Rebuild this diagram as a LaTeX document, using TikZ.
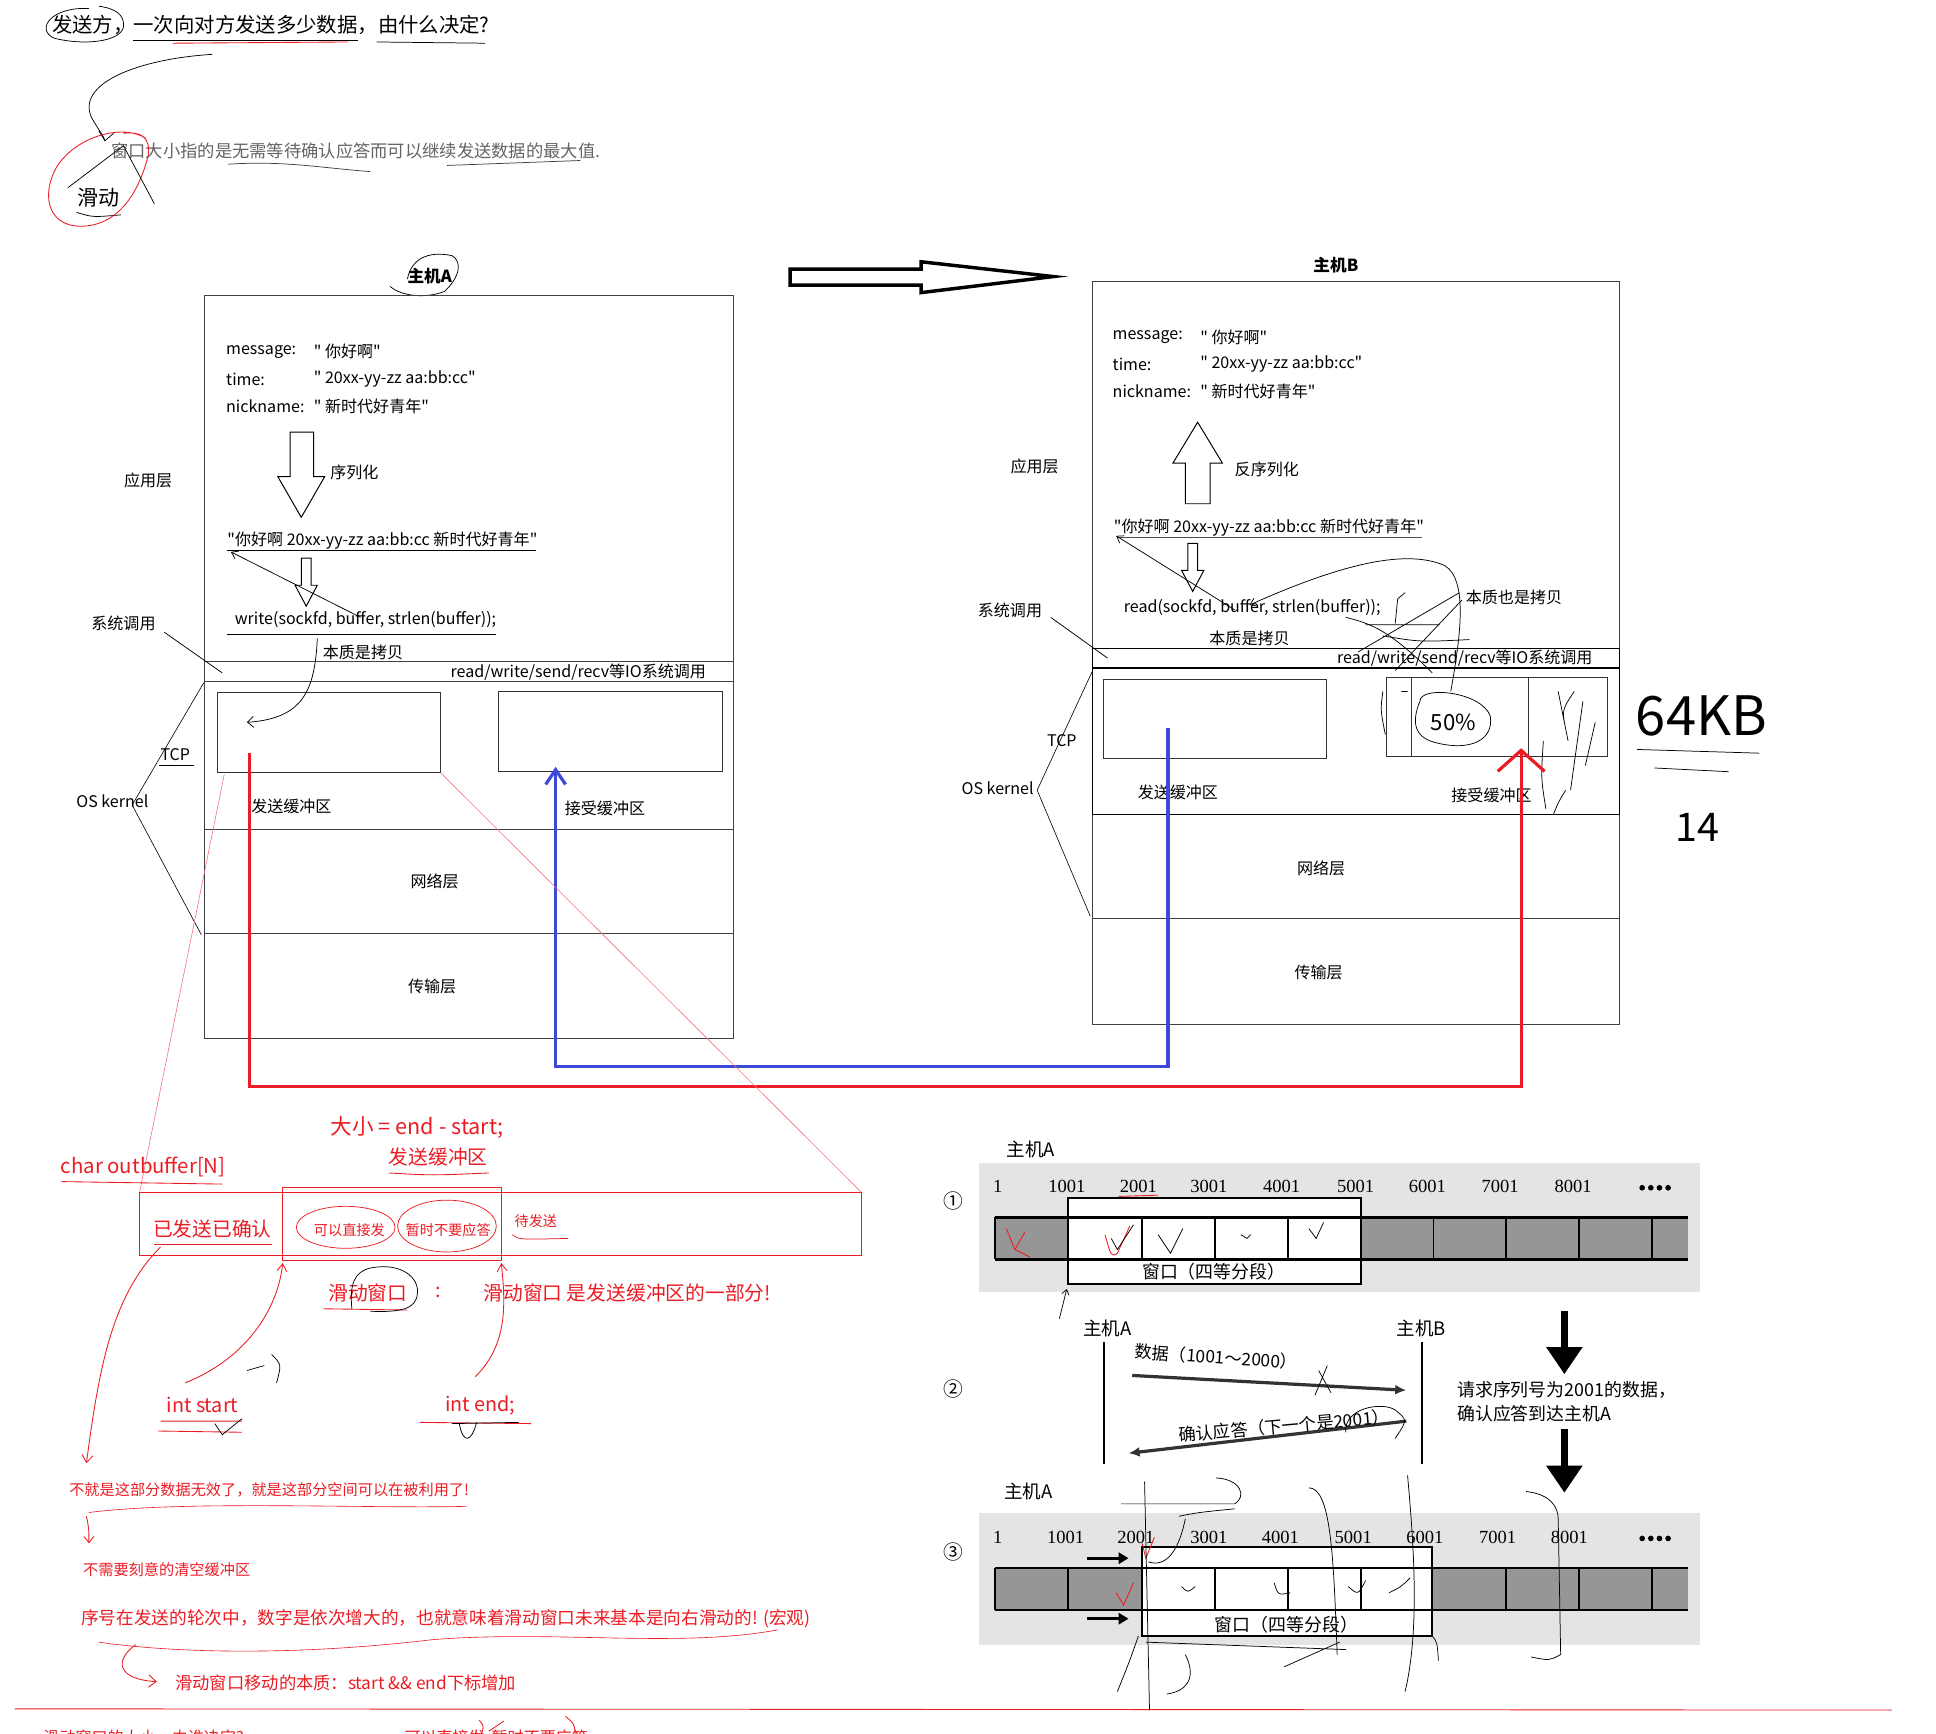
\documentclass[tikz,border=0pt]{standalone}
\usepackage{fontspec}
\setmainfont{Noto Sans CJK SC}[Ligatures=TeXOff]
\newfontfamily\numfont{Liberation Serif}
\usetikzlibrary{arrows.meta}
\definecolor{rd}{RGB}{236,28,36}
\definecolor{bl}{RGB}{62,72,214}
\definecolor{gtxt}{RGB}{100,100,100}
\definecolor{panel}{RGB}{228,228,228}
\definecolor{cell}{RGB}{150,150,150}
\newcommand{\myfs}[1]{\fontsize{#1}{#1}\selectfont}
\begin{document}
\begin{tikzpicture}[x=1pt,y=-1pt,
  lbl/.style={inner sep=0pt,font=\myfs{#1}},lbl/.default=13,
  rlbl/.style={inner sep=0pt,font=\myfs{#1},text=rd},rlbl/.default=16,
  nlbl/.style={inner sep=0pt,font=\numfont\myfs{15}},
  hostline/.style={draw=black!75,line width=0.8pt},
  hand/.style={draw=black,line width=0.6pt},
  redhand/.style={draw=rd,line width=0.7pt},
  redthin/.style={draw=rd!60,line width=0.5pt},
  hollow/.style={draw=black,line width=0.8pt,fill=white},
  bufbox/.style={draw=black!80,line width=0.8pt,inner sep=0pt},
  loopred/.style={draw=rd,line width=2.6pt},
  loopblue/.style={draw=bl,line width=2.6pt},
  barline/.style={draw=black,line width=1.8pt},
  winbox/.style={draw=black,line width=1.6pt,fill=white}
]
\useasboundingbox (0,0) rectangle (1568,1404);
\fill[white] (0,0) rectangle (1568,1404);

%% ---------------- top question ----------------
\node[lbl=16.5,anchor=west] (q) at (42,20) {发送方，一次向对方发送多少数据，由什么决定?};
\draw[hand] (72,7) .. controls (42,5) and (28,24) .. (44,31) .. controls (68,37) and (97,34) .. (100,22) .. controls (101,12) and (94,7) .. (80,5);
\draw[hand] (108,33) -- (290,33);
\draw[redhand] (140,35) -- (282,34);
\draw[hand] (305,34) -- (393,35);
\draw[hand] (172,44) .. controls (110,48) and (62,68) .. (74,95) .. controls (79,104) and (84,110) .. (85,114);
\draw[hand] (80,106) -- (85,114) -- (92,108);

\node[lbl=14,anchor=west,text=gtxt] (win) at (90,122) {窗口大小指的是无需等待确认应答而可以继续发送数据的最大值.};
\draw[hand,draw=black!75] (185,133) .. controls (230,130) and (260,136) .. (300,139);
\draw[hand,draw=black!75] (362,134) -- (470,130);
\node[lbl=17] (hd) at (80,160) {滑动};
\draw[hand] (62,172) .. controls (75,176) .. (98,174);
\draw[redhand] (118,112) .. controls (100,100) and (62,110) .. (46,135) .. controls (32,160) and (40,186) .. (70,183) .. controls (100,180) and (114,150) .. (120,126) .. controls (122,112) and (115,106) .. (100,108);
\draw[hand] (55,152) -- (100,118) -- (125,165);

%% ---------------- host A ----------------
\node[inner sep=0pt,font=\bfseries\myfs{13.5}] (hostA) at (348,224) {主机A};
\draw[hand] (316,232) .. controls (325,240) and (345,242) .. (360,236) .. controls (372,225) and (375,212) .. (366,207) .. controls (346,203) and (333,210) .. (330,226);
\draw[hostline] (166,239) rectangle (594,841);
\draw[hostline] (166,536) -- (594,536) (166,552) -- (594,552) (166,672) -- (594,672) (166,756) -- (594,756);

\node[lbl,anchor=west] (mA1) at (183,285) {message:};
\node[lbl,anchor=west] (vA1) at (254,285) {" 你好啊"};
\node[lbl,anchor=west] (mA2) at (183,307) {time:};
\node[lbl,anchor=west] (vA2) at (254,307) {" 20xx-yy-zz aa:bb:cc"};
\node[lbl,anchor=west] (mA3) at (183,329) {nickname:};
\node[lbl,anchor=west] (vA3) at (254,329) {" 新时代好青年"};
\draw[hollow] (235,350) -- (254,350) -- (254,386) -- (263,386) -- (244,419) -- (225,386) -- (235,386) -- cycle;
\node[lbl] (serLbl) at (287,383) {序列化};
\node[lbl] (appA) at (120,389) {应用层};
\node[lbl,anchor=west] (serA) at (184,438) {"你好啊 20xx-yy-zz aa:bb:cc 新时代好青年"};
\draw[hand] (184,446) -- (434,446);
\draw[hollow] (244,452) -- (252,452) -- (252,474) -- (257,474) -- (248,491) -- (239,474) -- (244,474) -- cycle;
\node[lbl,anchor=west] (wr) at (190,502) {write(sockfd, buffer, strlen(buffer));};
\draw[hand] (184,514) -- (402,514);
\draw[hand,-{Straight Barb[length=5pt,width=7pt]}] (292,500) -- (187,447);
\node[lbl] (scA) at (100,505) {系统调用};
\draw[hand] (133,512) -- (180,545);
\node[lbl] (copyA) at (294,528) {本质是拷贝};
\node[lbl,anchor=east] (ioA) at (572,544) {read/write/send/recv等IO系统调用};

\node[bufbox,minimum width=181pt,minimum height=65pt] (sendA) at (266.5,593.5) {};
\node[bufbox,minimum width=181pt,minimum height=65pt] (recvA) at (494.5,592.5) {};
\draw[hand,-{Straight Barb[length=5pt,width=9pt]}] (257,517) .. controls (255,560) and (245,582) .. (200,585);
\node[lbl] (sbA) at (236,653) {发送缓冲区};
\node[lbl] (rbA) at (490,655) {接受缓冲区};
\node[lbl] (tcpA) at (142,611) {TCP};
\draw[hand] (129,620) -- (157,620);
\node[lbl] (osA) at (91,649) {OS kernel};
\draw[hand,line width=0.5pt] (165,553) -- (107,652) -- (163,757);
\node[lbl] (netA) at (352,714) {网络层};
\node[lbl] (traA) at (350,799) {传输层};

%% ---------------- big arrow ----------------
\draw[line width=2.8pt,line join=miter] (640,218) -- (746,218) -- (746,212) -- (853,224) -- (746,237) -- (746,231) -- (640,231) -- cycle;

%% ---------------- host B ----------------
\node[inner sep=0pt,font=\bfseries\myfs{13.5}] (hostB) at (1082,215) {主机B};
\draw[hostline] (885,228) rectangle (1312,830);
\draw[hostline] (885,660) -- (1312,660) (885,744) -- (1312,744);
\draw[draw=black,line width=0.9pt] (885,525) rectangle (1312,541) (885,541) rectangle (1312,660);
\node[lbl,anchor=west] (mB1) at (901,273) {message:};
\node[lbl,anchor=west] (vB1) at (972,273) {" 你好啊"};
\node[lbl,anchor=west] (mB2) at (901,295) {time:};
\node[lbl,anchor=west] (vB2) at (972,295) {" 20xx-yy-zz aa:bb:cc"};
\node[lbl,anchor=west] (mB3) at (901,317) {nickname:};
\node[lbl,anchor=west] (vB3) at (972,317) {" 新时代好青年"};
\draw[hollow] (960,408) -- (980,408) -- (980,375) -- (990,375) -- (970,342) -- (950,375) -- (960,375) -- cycle;
\node[lbl] (deser) at (1026,380) {反序列化};
\node[lbl] (appB) at (838,378) {应用层};
\node[lbl,anchor=west] (serB) at (902,427) {"你好啊 20xx-yy-zz aa:bb:cc 新时代好青年"};
\draw[hand,draw=black!70] (905,435) -- (1152,435);
\draw[hollow] (962,440) -- (970,440) -- (970,462) -- (975,462) -- (966,479) -- (957,462) -- (962,462) -- cycle;
\node[lbl,anchor=west] (rdB) at (910,492) {read(sockfd, buffer, strlen(buffer));};
\draw[hand,-{Straight Barb[length=5pt,width=7pt]}] (1000,494) -- (904,434);
\node[lbl] (scB) at (818,494) {系统调用};
\draw[hand] (851,500) -- (897,533);
\node[lbl] (copyB) at (1012,517) {本质是拷贝};
\node[lbl,anchor=west] (copyB2) at (1187,484) {本质也是拷贝};
\node[lbl,anchor=east] (ioB) at (1290,533) {read/write/send/recv等IO系统调用};
\node[bufbox,minimum width=180pt,minimum height=64pt] (sendB) at (984,582) {};
\node[bufbox,minimum width=179pt,minimum height=64pt] (recvB) at (1212.5,581) {};
\draw[hand,draw=black!80] (1143,549) -- (1143,613) (1238,549) -- (1238,613);
\node[lbl] (sbB) at (954,642) {发送缓冲区};
\node[lbl] (rbB) at (1208,644) {接受缓冲区};
\node[lbl] (tcpB) at (860,600) {TCP};
\node[lbl] (osB) at (808,638) {OS kernel};
\draw[hand,line width=0.5pt] (885,543) -- (840,640) -- (883,742);
\node[lbl] (netB) at (1070,703) {网络层};
\node[lbl] (traB) at (1068,788) {传输层};

% hand scribbles host B
\draw[hand,-{Straight Barb[length=5pt,width=7pt]}] (1175,560) .. controls (1182,520) and (1190,470) .. (1170,458) .. controls (1140,445) and (1090,455) .. (1012,490);
\draw[hand] (1182,480) -- (1100,528) (1184,486) -- (1130,543) (1106,506) -- (1166,506) (1120,515) .. controls (1150,520) .. (1190,518);
\draw[hand] (1090,500) .. controls (1110,505) and (1125,510) .. (1160,545);
\draw[hand] (1130,505) -- (1132,485) -- (1138,480) (1120,560) .. controls (1118,575) .. (1122,595) (1135,560) -- (1140,560);
\draw[hand] (1262,560) -- (1270,600) (1250,600) .. controls (1248,630) .. (1252,655) (1282,568) -- (1272,640) (1292,585) -- (1284,620) (1268,640) .. controls (1262,650) .. (1258,660) (1275,560) .. controls (1265,575) .. (1268,590);
\draw[hand] (1150,568) .. controls (1150,555) and (1200,560) .. (1207,580) .. controls (1210,600) and (1190,608) .. (1165,602) .. controls (1145,598) and (1143,585) .. (1150,568);
\node[inner sep=0pt,font=\itshape\myfs{18}] (pct) at (1177,585) {50\%};

\node[inner sep=0pt,font=\itshape\myfs{44}] (kb) at (1378,580) {64KB};
\draw[hand] (1326,607) -- (1425,610) (1340,622) -- (1400,625);
\node[inner sep=0pt,font=\itshape\myfs{32}] (frac) at (1375,670) {14};

%% ---------------- red / blue loops ----------------
\coordinate (redS) at (202,610);
\coordinate (redE) at (1232,606);
\coordinate (blueS) at (946,590);
\coordinate (blueE) at (450,621);
\draw[loopred,-{Straight Barb[length=17pt,width=38pt]}] (redS) |- (1232,880) -- (redE);
\draw[loopblue,-{Straight Barb[length=12pt,width=16pt]}] (blueS) |- (450,864) -- (blueE);

%% ---------------- bottom-left notes ----------------
\draw[redthin] (sendA.south west) ++(6,1) -- (113,966);
\draw[redthin] (sendA.south east) -- (698,966);
\node[rlbl=17.5] (size) at (338,913) {大小 = end - start;};
\node[rlbl=16] (sbuf) at (355,937) {发送缓冲区};
\draw[redhand] (315,950) .. controls (350,952) .. (396,950);
\node[rlbl=16.5] (outb) at (116,945) {char outbuffer[N]};
\draw[redhand] (50,957) -- (180,959);
\draw[redhand,line width=0.6pt] (113,966) rectangle (698,1017);
\draw[redhand,line width=0.6pt] (229,962) rectangle (406,1021);
\node[rlbl=16] (acked) at (172,995) {已发送已确认};
\draw[redhand] (125,1008) -- (220,1008);
\node[rlbl=11.5] (cansend) at (283,996) {可以直接发};
\node[rlbl=11.5] (noack) at (363,996) {暂时不要应答};
\draw[redhand,line width=0.6pt] (280,994) ellipse (40 and 17);
\draw[redhand,line width=0.6pt] (362,993) ellipse (40 and 21);
\node[rlbl=11.5] (wait) at (434,989) {待发送};
\draw[redhand,line width=0.6pt] (415,1000) .. controls (420,1004) .. (460,1003);
\node[rlbl=16] (sw) at (298,1047) {滑动窗口};
\draw[redhand] (262,1060) -- (330,1061);
\draw[hand] (285,1060) .. controls (283,1040) and (287,1030) .. (300,1027) .. controls (325,1022) and (340,1035) .. (338,1048) .. controls (337,1060) and (325,1063) .. (300,1062);
\node[rlbl=16] (colon) at (355,1047) {:};
\node[rlbl=16] (swpart) at (508,1047) {滑动窗口 是发送缓冲区的一部分!};
\node[rlbl=16] (istart) at (164,1138) {int start};
\draw[redhand] (130,1151) -- (196,1151) (128,1159) -- (196,1160);
\draw[hand] (174,1153) -- (180,1162) -- (196,1149);
\node[rlbl=16] (iend) at (389,1138) {int end;};
\draw[redhand] (340,1152) -- (430,1153);
\draw[hand] (366,1153) -- (420,1152) (372,1153) .. controls (375,1170) and (382,1168) .. (386,1152);
\draw[redhand,-{Straight Barb[length=6pt,width=8pt]}] (150,1120) .. controls (200,1100) and (225,1060) .. (229,1023);
\draw[redhand,-{Straight Barb[length=6pt,width=8pt]}] (385,1115) .. controls (410,1090) and (410,1060) .. (406,1023);
\draw[redhand,-{Straight Barb[length=6pt,width=9pt]}] (130,1010) .. controls (90,1050) and (80,1110) .. (70,1185);
\draw[hand] (200,1110) -- (214,1106) (220,1097) .. controls (228,1105) .. (224,1120);

\node[rlbl=12.3] (note1) at (218,1207) {不就是这部分数据无效了，就是这部分空间可以在被利用了!};
\draw[redhand,line width=0.5pt] (72,1225) .. controls (150,1215) and (300,1222) .. (378,1220);
\draw[redhand,-{Straight Barb[length=5pt,width=8pt]}] (70,1228) .. controls (72,1238) .. (72,1250);
\node[rlbl=12.3] (note2) at (135,1271) {不需要刻意的清空缓冲区};
\node[rlbl=14.3] (note3) at (361,1311) {序号在发送的轮次中，数字是依次增大的，也就意味着滑动窗口未来基本是向右滑动的! (宏观)};
\draw[redhand,line width=0.5pt] (80,1330) .. controls (150,1340) and (250,1340) .. (350,1328) .. controls (450,1320) and (550,1335) .. (630,1320);
\draw[redhand,-{Straight Barb[length=6pt,width=10pt]}] (110,1332) .. controls (92,1345) and (95,1360) .. (127,1362);
\node[rlbl=14] (note4) at (280,1363) {滑动窗口移动的本质：start \&\& end下标增加};
\draw[redhand] (12,1384) -- (1532,1385);
\node[rlbl=13,anchor=west] (cut1) at (35,1407) {滑动窗口的大小，由谁决定?};
\node[rlbl=13,anchor=west] (cut2) at (320,1407) {- 可以直接发};
\node[rlbl=13,anchor=west] (cut3) at (398,1407) {暂时不要应答};
\draw[redhand] (388,1393) .. controls (392,1398) .. (390,1404) (458,1390) .. controls (465,1396) .. (466,1404) (396,1402) -- (408,1394);

%% ---------------- textbook figure ----------------
\node[inner sep=0pt,font=\myfs{15}] (tA1) at (835,931) {主机A};
\node[inner sep=0pt,font=\myfs{16}] (c1) at (772,973) {①};
\fill[panel] (793,942) rectangle (1377,1046);
\fill[cell] (806,986) rectangle (1367,1020);
\draw[winbox] (865,970) rectangle (1102,1040);
\draw[barline] (806,986) -- (1367,986) (806,1020) -- (1367,1020);
\foreach \x in {806,865,925,984,1043,1102,1161,1220,1279,1338}
  \draw[line width=1.6pt] (\x,986) -- (\x,1020);
\foreach \x/\n in {808/1,864/1001,922/2001,979/3001,1038/4001,1098/5001,1156/6001,1215/7001,1274/8001}
  \node[nlbl] (pa\x) at (\x,961) {\n};
\foreach \i in {0,1,2,3} \fill (1330+\i*7,962) circle (2.3);
\node[inner sep=0pt,font=\myfs{14.5}] (w1) at (983,1030) {窗口（四等分段）};
\draw[redhand] (906,969) -- (938,968);
\draw[redhand] (815,995) -- (822,1012) -- (830,998) (822,1012) -- (834,1018);
\draw[redhand] (895,1000) .. controls (900,1018) .. (905,1015) -- (915,993);
\draw[hand] (900,1003) -- (905,1012) -- (918,992) (938,1000) -- (948,1015) -- (958,995) (1005,1000) -- (1010,1003) -- (1013,1000) (1060,995) -- (1066,1003) -- (1072,990);
\draw[hand,-{Straight Barb[length=4pt,width=6pt]}] (858,1068) -- (864,1044);

\node[inner sep=0pt,font=\myfs{16}] (c2) at (772,1125) {②};
\node[inner sep=0pt,font=\myfs{15}] (tA2) at (897,1076) {主机A};
\node[inner sep=0pt,font=\myfs{15}] (tB2) at (1151,1076) {主机B};
\draw[line width=1.5pt] (894,1087) -- (894,1186) (1152,1087) -- (1152,1186);
\draw[line width=2.6pt,draw=black!80,-{Latex[length=9pt,width=8pt]}] (917,1114) -- (1139,1126);
\node[inner sep=0pt,font=\myfs{14},rotate=-4] (dlab) at (985,1099) {数据（1001～2000）};
\draw[line width=2.6pt,draw=black!80,-{Latex[length=9pt,width=8pt]}] (1139,1151) -- (914,1177);
\node[inner sep=0pt,font=\myfs{14},rotate=5] (alab) at (1040,1155) {确认应答（下一个是2001）};
\draw[hand] (1068,1110) -- (1078,1128) (1075,1106) -- (1065,1130);
\draw[hand] (1090,1160) .. controls (1088,1140) and (1120,1135) .. (1130,1142) .. controls (1140,1150) .. (1130,1165);
\draw[line width=6pt,-{Triangle[length=22pt,width=28pt]}] (1267,1062) -- (1267,1113);
\draw[line width=6pt,-{Triangle[length=22pt,width=28pt]}] (1267,1157) -- (1267,1209);
\node[inner sep=0pt,font=\myfs{14.5},anchor=west] (req1) at (1180,1126) {请求序列号为2001的数据，};
\node[inner sep=0pt,font=\myfs{14.5},anchor=west] (req2) at (1180,1145) {确认应答到达主机A};

\node[inner sep=0pt,font=\myfs{15}] (tA3) at (833,1208) {主机A};
\node[inner sep=0pt,font=\myfs{16}] (c3) at (772,1257) {③};
\fill[panel] (793,1225) rectangle (1377,1332);
\fill[cell] (806,1270) rectangle (1367,1304);
\draw[winbox] (925,1253) rectangle (1160,1325);
\draw[barline] (806,1270) -- (1367,1270) (806,1304) -- (1367,1304);
\foreach \x in {806,865,925,984,1043,1102,1160,1220,1279,1338}
  \draw[line width=1.6pt] (\x,1270) -- (\x,1304);
\foreach \x/\n in {808/1,863/1001,920/2001,979/3001,1037/4001,1096/5001,1154/6001,1213/7001,1271/8001}
  \node[nlbl] (pc\x) at (\x,1245) {\n};
\foreach \i in {0,1,2,3} \fill (1330+\i*7,1246) circle (2.3);
\node[inner sep=0pt,font=\myfs{14.5}] (w3) at (1042,1316) {窗口（四等分段）};
\draw[line width=2.6pt,-{Triangle[length=8pt,width=9pt]}] (880,1262) -- (914,1262);
\draw[line width=2.6pt,-{Triangle[length=8pt,width=9pt]}] (880,1311) -- (914,1311);
\draw[redhand] (904,1290) -- (910,1300) -- (918,1282) (925,1250) -- (928,1262) -- (935,1245);
% scribbles on figure 3
\draw[hand] (927,1200) -- (931,1385);
\draw[hand] (908,1218) -- (1000,1218) .. controls (1010,1212) and (1005,1198) .. (985,1197);
\draw[hand] (1000,1222) .. controls (970,1225) .. (955,1228);
\draw[hand] (930,1265) .. controls (945,1270) and (955,1255) .. (960,1230);
\draw[hand] (1060,1205) .. controls (1078,1205) and (1080,1260) .. (1083,1340);
\draw[hand] (1140,1195) .. controls (1145,1250) and (1150,1320) .. (1138,1370);
\draw[hand] (1236,1208) .. controls (1255,1210) and (1262,1220) .. (1262,1230) -- (1264,1340) .. controls (1255,1345) .. (1240,1342);
\draw[hand] (957,1285) .. controls (962,1290) .. (968,1285) (1032,1282) .. controls (1035,1292) .. (1045,1290) (1092,1285) .. controls (1100,1292) .. (1106,1280) (1125,1290) .. controls (1135,1285) .. (1142,1278);
\draw[hand] (928,1330) -- (1090,1336) (1040,1350) -- (1085,1330) (960,1340) .. controls (970,1360) and (960,1370) .. (945,1372);
\draw[hand] (922,1325) .. controls (915,1345) .. (905,1370) (1160,1325) .. controls (1164,1330) .. (1165,1345);
\end{tikzpicture}
\end{document}
